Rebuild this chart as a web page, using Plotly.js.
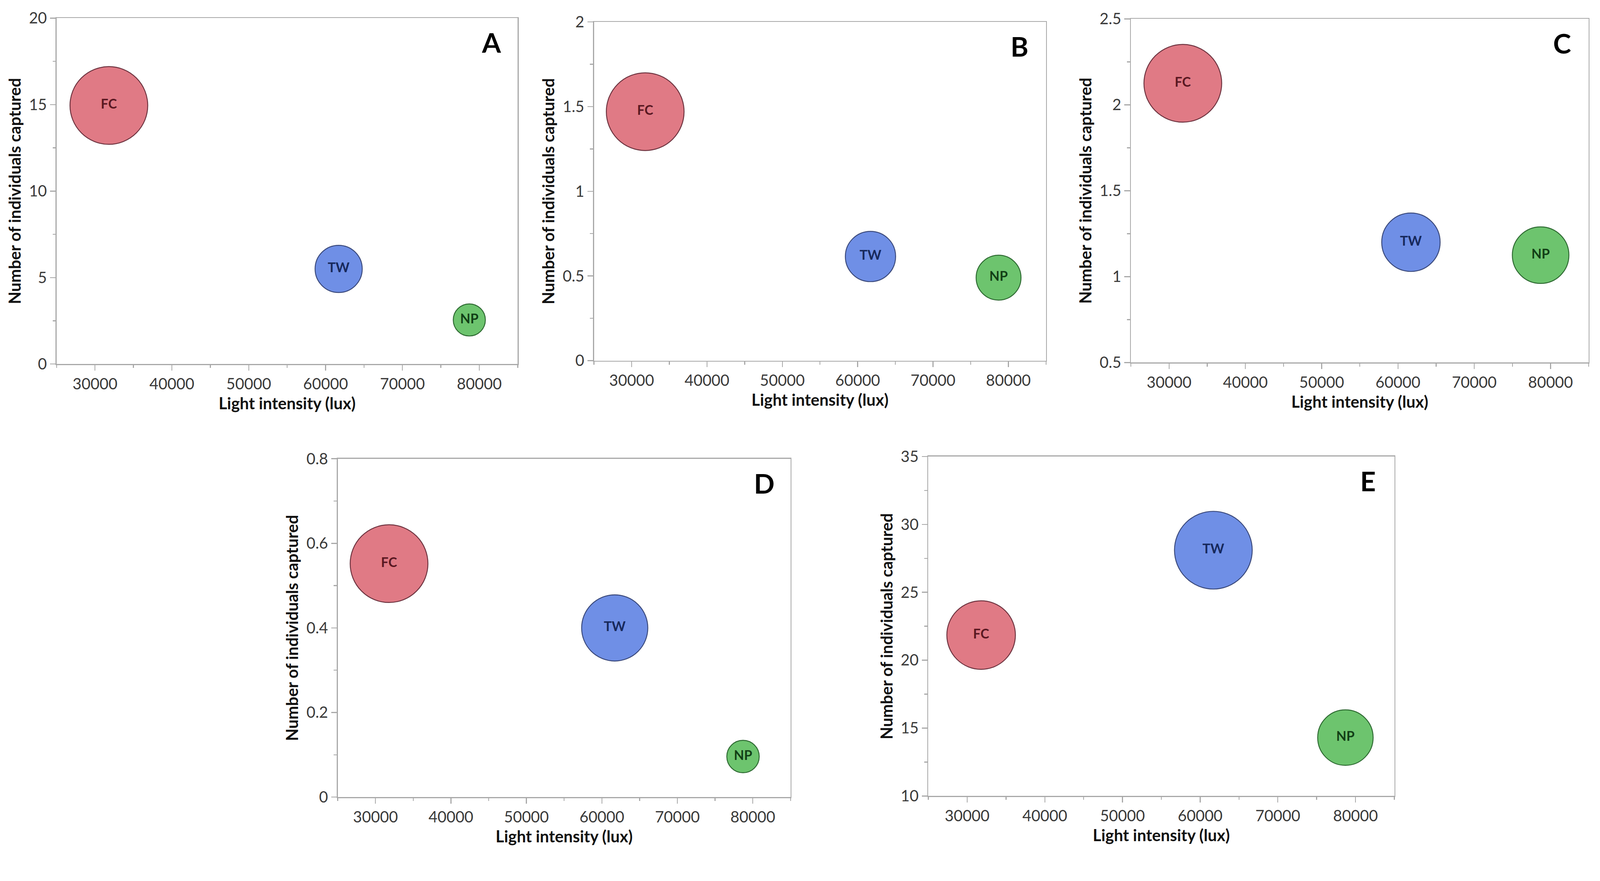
<!DOCTYPE html>
<html><head><meta charset="utf-8">
<script src="https://cdn.plot.ly/plotly-3.0.1.min.js"></script>
<style>html,body{margin:0;padding:0;background:#fff;overflow:hidden}#chart{position:absolute;left:0;top:0}</style>
</head><body><div id="chart"></div>
<script>
// ---- data ----
const sites = ['FC', 'TW', 'NP'];
const lightLux = [31800, 61700, 78700];
const capturedA = [14.95, 5.5, 2.55];
const capturedB = [1.47, 0.615, 0.49];
const capturedC = [2.125, 1.2, 1.125];
const capturedD = [0.552, 0.40, 0.096];
const capturedE = [21.85, 28.1, 14.3];
const panelLetters = ['A', 'B', 'C', 'D', 'E'];
const xTickVals = [30000, 40000, 50000, 60000, 70000, 80000];
const yRanges = [[0, 20], [0, 2], [0.5, 2.5], [0, 0.8], [10, 35]];
const yDticks = [5, 0.5, 0.5, 0.2, 5];
const xTitle = 'Light intensity (lux)';
const yTitle = 'Number of individuals captured';

// ---- styling ----
const REF_W = 4240, REF_H = 2256;
const W = window.innerWidth || REF_W, H = window.innerHeight || REF_H;
const s = W / REF_W;               // uniform scale, anchored at top-left
const fills = ['#E07A85', '#6F8FE6', '#6DC46E'];
const outlines = ['#6E3440', '#3B4A7C', '#2F6B33'];
const labelColors = ['#5A1822', '#17295C', '#123F16'];
const boxes = [ // l, r, t, b in reference px
  [150, 1372, 48, 965],
  [1574, 2772, 58, 956],
  [2997, 4210, 50, 961],
  [895, 2095, 1216, 2113],
  [2460, 3695, 1210, 2110]
];
const series = [capturedA, capturedB, capturedC, capturedD, capturedE];
const maxDiam = 206 * s;
const axisGray = '#A8A8A8';
const FONT = 'Lato, "Open Sans", sans-serif';

const traces = [];
const layout = {
  width: W, height: H,
  margin: {l: 0, r: 0, t: 0, b: 0},
  paper_bgcolor: '#fff', plot_bgcolor: '#fff',
  showlegend: false,
  font: {family: FONT, color: '#333'},
  annotations: []
};

series.forEach((vals, i) => {
  const n = i + 1;
  const xa = 'xaxis' + (n === 1 ? '' : n), ya = 'yaxis' + (n === 1 ? '' : n);
  const xr = 'x' + (n === 1 ? '' : n), yr = 'y' + (n === 1 ? '' : n);
  const [l, r, t, b] = boxes[i];
  const mx = Math.max(...vals);
  traces.push({
    type: 'scatter', mode: 'markers+text',
    x: lightLux, y: vals, text: sites,
    xaxis: xr, yaxis: yr,
    textposition: 'middle center',
    textfont: {family: FONT, size: 35 * s, color: labelColors, weight: 'bold'},
    marker: {
      size: vals, sizemode: 'area', sizeref: 2 * mx / (maxDiam * maxDiam),
      color: fills, opacity: 1,
      line: {color: outlines, width: 2.5 * s}
    },
    cliponaxis: false,
    hoverinfo: 'skip'
  });
  const common = {
    showline: true, mirror: true, linecolor: axisGray, linewidth: 2.5 * s,
    showgrid: false, zeroline: false,
    ticks: 'outside', ticklen: 15 * s, tickwidth: 2.5 * s, tickcolor: axisGray,
    tickfont: {family: FONT, size: 41 * s, color: '#3a3a3a'},
    automargin: false, fixedrange: true
  };
  const minorCommon = {ticks: 'outside', ticklen: 8 * s, tickwidth: 2.5 * s, tickcolor: axisGray};
  layout[xa] = Object.assign({}, common, {
    domain: [l * s / W, r * s / W], anchor: yr,
    range: [25000, 85000], tickmode: 'array', tickvals: xTickVals,
    tickformat: 'd',
    minor: Object.assign({dtick: 5000, tick0: 25000}, minorCommon),
    title: {text: xTitle, standoff: 16 * s, font: {family: FONT, size: 43 * s, color: '#111', weight: 'bold'}}
  });
  layout[ya] = Object.assign({}, common, {
    domain: [1 - b * s / H, 1 - t * s / H], anchor: xr,
    range: yRanges[i], dtick: yDticks[i], tick0: yRanges[i][0],
    minor: Object.assign({dtick: yDticks[i] / 2}, minorCommon),
    title: {text: yTitle, standoff: 8 * s, font: {family: FONT, size: 43 * s, color: '#111', weight: 'bold'}}
  });
  layout.annotations.push({
    xref: xr + ' domain', yref: yr + ' domain',
    x: 1 - 70 / (r - l), y: 1 - 64 / (b - t),
    xanchor: 'center', yanchor: 'middle',
    text: '<b>' + panelLetters[i] + '</b>', showarrow: false,
    font: {family: FONT, size: 72 * s, color: '#000'}
  });
});

Plotly.newPlot('chart', traces, layout, {staticPlot: true, displayModeBar: false});
</script>
</body></html>
